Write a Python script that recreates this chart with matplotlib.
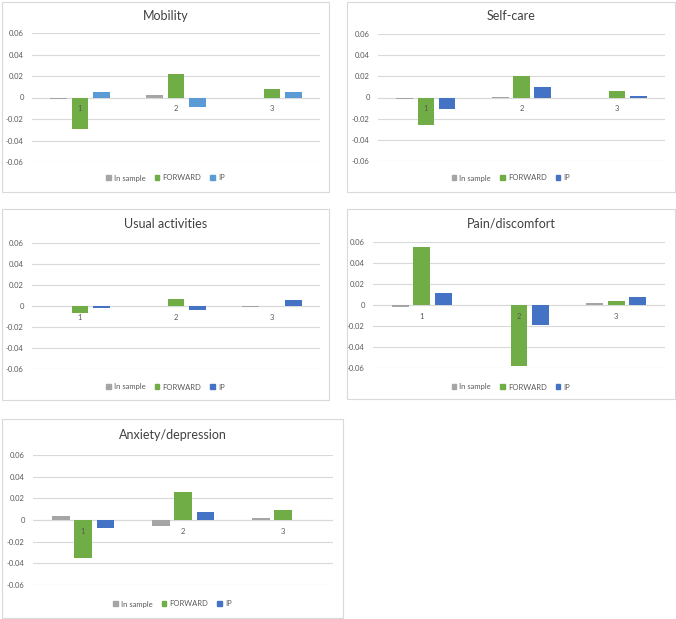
import matplotlib
matplotlib.use("Agg")
import matplotlib.pyplot as plt
from matplotlib.patches import Rectangle, Patch
import numpy as np

plt.rcParams['font.family'] = ['Lato', 'DejaVu Sans']

W, H = 676, 619

categories = ["1", "2", "3"]
series_names = ["In sample", "FORWARD", "IP"]

mobility_in = [-0.001, 0.0025, -0.0005]
mobility_fw = [-0.0295, 0.022, 0.0078]
mobility_ip = [0.005, -0.0093, 0.0053]

selfcare_in = [-0.001, 0.0005, 0.0]
selfcare_fw = [-0.0256, 0.020, 0.0057]
selfcare_ip = [-0.011, 0.0098, 0.0013]

usual_in = [0.0, 0.0, -0.0005]
usual_fw = [-0.0063, 0.0066, 0.0]
usual_ip = [-0.0016, -0.0038, 0.0054]

pain_in = [-0.0019, 0.0, 0.0019]
pain_fw = [0.055, -0.058, 0.0035]
pain_ip = [0.0116, -0.0188, 0.0075]

anx_in = [0.0037, -0.0058, 0.0022]
anx_fw = [-0.0354, 0.0258, 0.0092]
anx_ip = [-0.0074, 0.0074, 0.0]

yticks = [-0.06, -0.04, -0.02, 0, 0.02, 0.04, 0.06]
ytick_labels = ["-0.06", "-0.04", "-0.02", "0", "0.02", "0.04", "0.06"]

GREY = "#A5A5A5"
GREEN = "#70AD47"
BLUE = "#4472C4"
LIGHTBLUE = "#5B9BD5"
TXT = "#595959"
LINE = "#D9D9D9"

fig = plt.figure(figsize=(W / 100, H / 100), dpi=100)


def fx(x):
    return x / W


def fy(y):
    return 1 - y / H


def panel(box, plot, title, title_y, legend_y, vals, ip_color):
    # box / plot: (left, top, right, bottom) in pixels
    l, t, r, b = box
    fig.patches.append(Rectangle((fx(l), fy(b)), fx(r - l), (b - t) / H,
                                 transform=fig.transFigure, fill=False,
                                 edgecolor=LINE, linewidth=0.8))
    pl, pt, pr, pb = plot
    ax = fig.add_axes([fx(pl), fy(pb), fx(pr - pl), (pb - pt) / H])
    x = np.arange(len(categories))
    w = 0.174
    step = 0.222
    colors = [GREY, GREEN, ip_color]
    for i, v in enumerate(vals):
        ax.bar(x + (i - 1) * step, v, width=w, color=colors[i], zorder=3)
    ax.set_xlim(-0.5, 2.5)
    ax.set_ylim(-0.06, 0.06)
    ax.set_yticks(yticks)
    ax.set_yticklabels(ytick_labels)
    ax.set_xticks([])
    ax.tick_params(axis='y', length=0, labelsize=5.5, labelcolor=TXT, pad=6)
    ax.grid(axis='y', color=LINE, linewidth=0.8, zorder=0)
    for s in ax.spines.values():
        s.set_visible(False)
    ax.axhline(0, color=LINE, linewidth=0.8, zorder=1)
    for i, c in enumerate(categories):
        ax.annotate(c, xy=(i, 0), xytext=(0, -8), textcoords='offset points',
                    ha='center', va='center', fontsize=5.5, color=TXT)
    fig.text(fx((l + r) / 2), fy(title_y), title, ha='center', va='center',
             fontsize=9, color="#404040")
    handles = [Patch(color=c) for c in colors]
    fig.legend(handles, series_names, loc='center',
               bbox_to_anchor=(fx((l + r) / 2), fy(legend_y)), ncol=3,
               frameon=False, fontsize=5.5, labelcolor=TXT,
               handlelength=0.6, handleheight=0.6, handletextpad=0.4,
               columnspacing=1.2, borderpad=0)


panel((2, 2, 329, 192), (32, 33, 320, 162), "Mobility", 16, 178,
      [mobility_in, mobility_fw, mobility_ip], LIGHTBLUE)
panel((347, 2, 675, 192), (378, 34, 665, 161), "Self-care", 16, 178,
      [selfcare_in, selfcare_fw, selfcare_ip], BLUE)
panel((2, 209, 329, 400), (32, 243, 320, 369), "Usual activities", 224, 387,
      [usual_in, usual_fw, usual_ip], BLUE)
panel((347, 209, 675, 399), (373, 242, 665, 368), "Pain/discomfort", 224, 387,
      [pain_in, pain_fw, pain_ip], BLUE)
panel((2, 419, 343, 618), (33, 455, 333, 585), "Anxiety/depression", 435, 604,
      [anx_in, anx_fw, anx_ip], BLUE)

fig.savefig("out.png", dpi=100)
